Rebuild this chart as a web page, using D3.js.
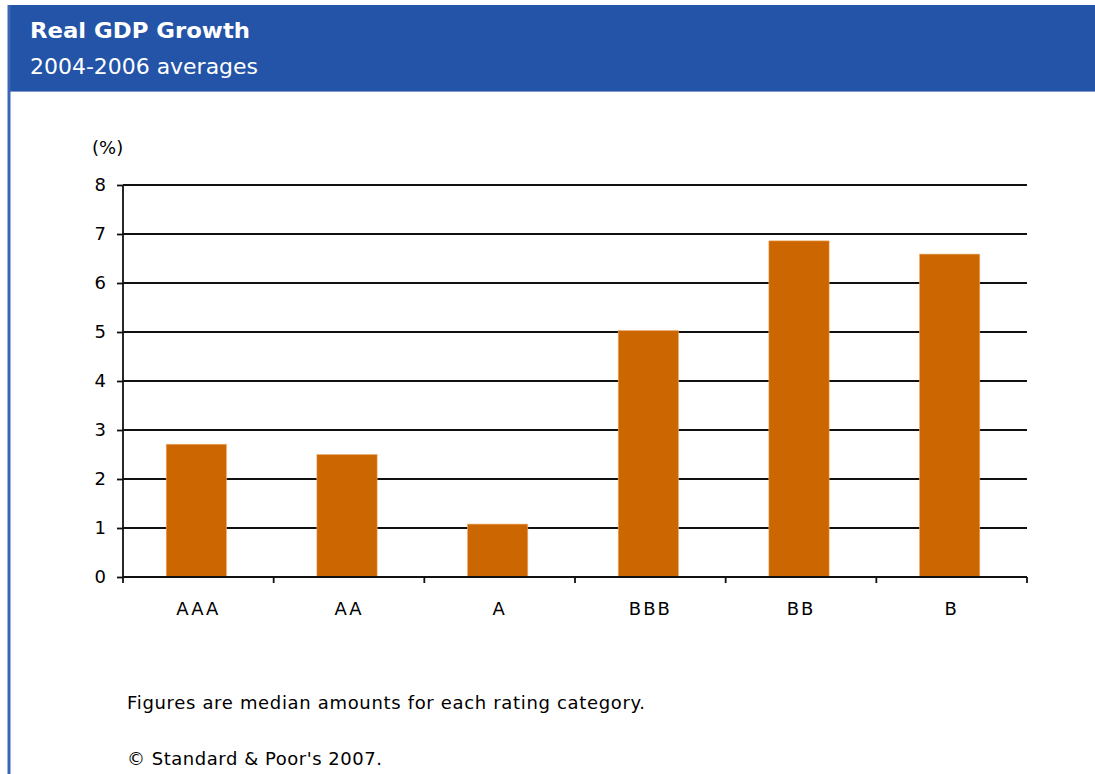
<!DOCTYPE html>
<html><head><meta charset="utf-8">
<script src="https://cdn.jsdelivr.net/npm/d3@7"></script>
<style>
html,body{margin:0;padding:0;background:#fff;}
svg{display:block;}
</style></head>
<body>
<script>
const categories = ["AAA","AA","A","BBB","BB","B"];
const values = [2.71, 2.50, 1.08, 5.03, 6.86, 6.59];
const yTicks = [0,1,2,3,4,5,6,7,8];
const title = "Real GDP Growth";
const subtitle = "2004-2006 averages";
const unitLabel = "(%)";
const notes = ["Figures are median amounts for each rating category.", "\u00A9 Standard & Poor's 2007."];

const W = 1095, H = 774;
const svg = d3.select("body").append("svg").attr("width", W).attr("height", H);
const font = "'DejaVu Sans', sans-serif";
const fs = 18;

// header
svg.append("rect").attr("x", 8).attr("y", 5).attr("width", W - 8).attr("height", 87).attr("fill", "#2354A8");
svg.append("line").attr("x1", 8).attr("x2", W).attr("y1", 91.5).attr("y2", 91.5).attr("stroke", "#7F9BD0").attr("stroke-width", 1);
// left border
svg.append("rect").attr("x", 7.5).attr("y", 5).attr("width", 3).attr("height", H - 5).attr("fill", "#3B66B8");

svg.append("text").attr("x", 30).attr("y", 38).attr("fill", "#fff").attr("font-family", "'DejaVu Sans', sans-serif")
  .attr("font-weight", "bold").attr("font-size", 22).attr("textLength", 220).attr("lengthAdjust", "spacingAndGlyphs").text(title);
svg.append("text").attr("x", 30).attr("y", 74).attr("fill", "#fff").attr("font-family", "'DejaVu Sans', sans-serif")
  .attr("font-size", 22).attr("textLength", 228).attr("lengthAdjust", "spacingAndGlyphs").text(subtitle);

const pLeft = 123, pRight = 1027, pTop = 185, pBottom = 577;
const x = d3.scaleBand().domain(categories).range([pLeft, pRight]).paddingInner(0.6).paddingOuter(0.3);
const y = d3.scaleLinear().domain([0, 8]).range([pBottom, pTop]);

// gridlines
svg.append("g").selectAll("line").data(yTicks.filter(d => d > 0)).join("line")
  .attr("x1", pLeft).attr("x2", pRight).attr("y1", d => y(d)).attr("y2", d => y(d))
  .attr("stroke", "#111").attr("stroke-width", 1.8);

// bars
svg.append("g").selectAll("rect").data(values).join("rect")
  .attr("x", (d, i) => x(categories[i]) - 2).attr("width", x.bandwidth())
  .attr("y", d => y(d)).attr("height", d => pBottom - y(d))
  .attr("fill", "#CC6600").attr("stroke", "#F0B070").attr("stroke-width", 0.6);

// y axis
const yAxis = d3.axisLeft(y).tickValues(yTicks).tickSize(6).tickPadding(11).tickFormat(d3.format("d"));
const gy = svg.append("g").attr("transform", `translate(${pLeft},0)`).call(yAxis);
gy.select(".domain").attr("stroke", "#111").attr("stroke-width", 1.8).attr("d", `M0,${pTop}V${pBottom}`);
gy.selectAll(".tick line").attr("stroke", "#111").attr("stroke-width", 1.8);
gy.selectAll(".tick text").attr("font-family", font).attr("font-size", fs).attr("fill", "#000");

// x axis
const boundaries = d3.range(categories.length + 1).map(i => pLeft + i * (pRight - pLeft) / categories.length);
svg.append("line").attr("x1", pLeft).attr("x2", pRight).attr("y1", pBottom).attr("y2", pBottom).attr("stroke", "#111").attr("stroke-width", 1.8);
svg.append("g").selectAll("line").data(boundaries).join("line")
  .attr("x1", d => d).attr("x2", d => d).attr("y1", pBottom).attr("y2", pBottom + 6)
  .attr("stroke", "#111").attr("stroke-width", 1.8);
svg.append("g").selectAll("text").data(categories).join("text")
  .attr("x", d => x(d) + x.bandwidth() / 2)
  .attr("y", 615)
  .attr("text-anchor", "middle").attr("font-family", font).attr("font-size", fs)
  .attr("letter-spacing", 2).text(d => d);

svg.append("text").attr("x", 92).attr("y", 154).attr("font-family", font).attr("font-size", fs).text(unitLabel);

svg.append("text").attr("x", 127).attr("y", 709).attr("font-family", font).attr("font-size", fs)
  .attr("textLength", 518).attr("lengthAdjust", "spacing").text(notes[0]);
svg.append("text").attr("x", 127).attr("y", 765).attr("font-family", font).attr("font-size", fs)
  .attr("textLength", 255).attr("lengthAdjust", "spacing").text(notes[1]);
</script>
</body></html>
